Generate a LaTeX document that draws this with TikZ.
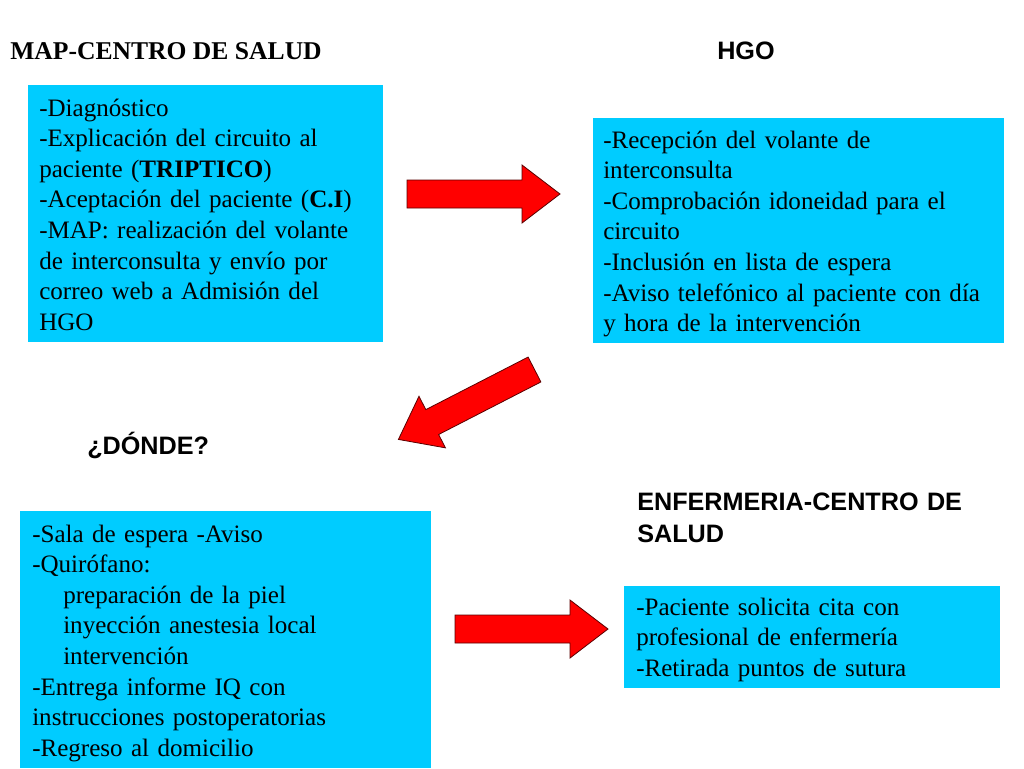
\documentclass[tikz,border=0pt]{standalone}
\usepackage{fontspec}
\setmainfont{Liberation Serif}
\setsansfont{Liberation Sans}
\usetikzlibrary{fit}
\definecolor{boxcyan}{RGB}{0,204,255}
\definecolor{arrowred}{RGB}{255,0,0}
\definecolor{arrowline}{RGB}{90,0,0}
\begin{document}
\begin{tikzpicture}[x=0.75pt,y=-0.75pt,
  box/.style={fill=boxcyan, draw=none, inner sep=0pt, rectangle},
  body/.style={anchor=base west, inner sep=0pt, text width=420pt, align=left,
    font=\fontsize{18.8}{22.95}\selectfont},
  serifhead/.style={anchor=base west, inner sep=0pt, font=\fontsize{19.2}{22.95}\selectfont\bfseries},
  sanshead/.style={anchor=base west, inner sep=0pt, text width=300pt, align=left,
    font=\fontsize{18.9}{24}\selectfont\sffamily\bfseries},
  arrowbody/.style={fill=arrowred, draw=arrowline, line width=0.6pt, line join=miter},
  redarrow/.pic={\draw[arrowbody] (0,-14) -- (115,-14) -- (115,-29) -- (153,0) -- (115,29) -- (115,14) -- (0,14) -- cycle;}
]
\useasboundingbox[fill=white] (0,0) rectangle (1024,768);

% boxes
\node[box, fit={(28,85) (383,342)}] (b1) {};
\node[box, fit={(593,118) (1004,343)}] (b2) {};
\node[box, fit={(20,511) (431,768)}] (b3) {};
\node[box, fit={(624,586) (1000,688)}] (b4) {};

% headings
\node[serifhead] (h1) at (10,59) {MAP-CENTRO DE SALUD};
\node[sanshead] (h2) at (717,59) {HGO};
\node[sanshead] (h3) at (87,454) {¿DÓNDE?};
\node[sanshead] (h4) at (637,510) {ENFERMERIA-CENTRO DE\\SALUD};

% texts
\node[body] (t1) at (39,116) {-Diagnóstico\\
-Explicación del circuito al\\
paciente (\textbf{TRIPTICO})\\
-Aceptación del paciente (\textbf{C.I})\\
-MAP: realización del volante\\
de interconsulta y envío por\\
correo web a Admisión del\\
HGO};

\node[body] (t2) at (603,148) {-Recepción del volante de\\
interconsulta\\
-Comprobación idoneidad para el\\
circuito\\
-Inclusión en lista de espera\\
-Aviso telefónico al paciente con día\\
y hora de la intervención};

\node[body] (t3) at (32,542) {-Sala de espera -Aviso\\
-Quirófano:\\
\hspace*{23.25pt}preparación de la piel\\
\hspace*{23.25pt}inyección anestesia local\\
\hspace*{23.25pt}intervención\\
-Entrega informe IQ con\\
instrucciones postoperatorias\\
-Regreso al domicilio};

\node[body] (t4) at (636,615) {-Paciente solicita cita con\\
profesional de enfermería\\
-Retirada puntos de sutura};

% block arrows
\coordinate (a1) at (407,194);
\coordinate (a2) at (534.5,369.5);
\coordinate (a3) at (455,629);
\pic at (a1) {redarrow};
\pic[rotate=207.2] at (a2) {redarrow};
\pic at (a3) {redarrow};
\end{tikzpicture}
\end{document}
